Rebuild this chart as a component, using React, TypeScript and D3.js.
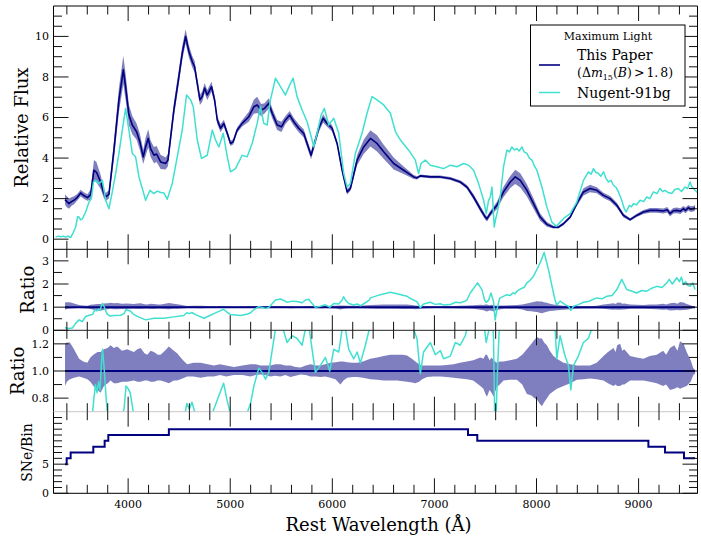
import React from 'react';
import * as d3 from 'd3';

const W = 701;
const H = 540;
const LEFT = 53.5;
const RIGHT = 697.5;
const FONT = '"DejaVu Serif", "Liberation Serif", serif';
const NAVY = '#000080';
const CYAN = '#40e0d0';
const BAND = 'rgba(0,0,128,0.5)';

const waveRange: [number, number] = [3269, 9577];
const waveMajorTicks = [4000, 5000, 6000, 7000, 8000, 9000];
const fluxTicks = [0, 2, 4, 6, 8, 10];
const ratioTicks = [0, 1, 2, 3];
const zoomRatioTicks = [0.8, 1.0, 1.2];
const binTicks = [0, 5];

// Mean maximum-light spectrum: [wavelength (Å), relative flux, 1σ half-width]
const meanSpectrum: [number, number, number][] = [
  [3382, 1.95, 0.25], [3400, 1.85, 0.27], [3421, 1.75, 0.25], [3445, 1.85, 0.22], [3470, 1.92, 0.2],
  [3500, 2.05, 0.16], [3535, 2.28, 0.16], [3565, 2.15, 0.16], [3601, 2.05, 0.16], [3633, 2.2, 0.25],
  [3665, 3.4, 0.5], [3690, 3.3, 0.5], [3731, 2.82, 0.35], [3760, 2.3, 0.25], [3780, 2.08, 0.2],
  [3812, 2.21, 0.2], [3861, 4.39, 0.45], [3910, 6.87, 0.6], [3953, 8.35, 0.7], [3975, 7.52, 0.65],
  [4008, 6.12, 0.5], [4041, 5.63, 0.45], [4083, 5.3, 0.4], [4115, 4.8, 0.4], [4148, 4.06, 0.35],
  [4171, 4.55, 0.45], [4197, 4.97, 0.45], [4220, 4.47, 0.4], [4253, 4.14, 0.4], [4279, 4.2, 0.4],
  [4318, 3.81, 0.35], [4367, 3.73, 0.3], [4390, 3.9, 0.3], [4448, 6.37, 0.35], [4497, 8.02, 0.35],
  [4530, 9.18, 0.35], [4563, 10.0, 0.35], [4595, 9.26, 0.3], [4628, 8.76, 0.28], [4651, 8.51, 0.28],
  [4677, 7.69, 0.25], [4703, 6.87, 0.25], [4726, 7.03, 0.25], [4749, 7.45, 0.25], [4775, 7.11, 0.25],
  [4817, 7.52, 0.25], [4847, 6.87, 0.22], [4873, 5.88, 0.2], [4905, 5.47, 0.2], [4938, 5.71, 0.18],
  [4971, 5.22, 0.15], [5003, 4.72, 0.13], [5029, 4.8, 0.13], [5068, 5.38, 0.13], [5117, 5.71, 0.15],
  [5182, 6.04, 0.25], [5231, 6.53, 0.35], [5264, 6.62, 0.4], [5303, 6.37, 0.3], [5336, 6.45, 0.25],
  [5378, 6.7, 0.25], [5411, 6.21, 0.25], [5460, 5.63, 0.25], [5502, 5.54, 0.25], [5541, 5.88, 0.2],
  [5583, 6.12, 0.2], [5622, 5.79, 0.2], [5671, 5.47, 0.2], [5720, 5.22, 0.2], [5753, 4.72, 0.2],
  [5792, 4.14, 0.2], [5835, 4.89, 0.2], [5867, 5.47, 0.2], [5910, 5.96, 0.2], [5949, 5.71, 0.16],
  [5998, 5.47, 0.16], [6047, 4.72, 0.13], [6096, 3.4, 0.13], [6145, 2.33, 0.13], [6177, 2.5, 0.13],
  [6243, 3.9, 0.25], [6307, 4.55, 0.35], [6373, 4.97, 0.4], [6438, 4.72, 0.4], [6503, 4.31, 0.35],
  [6601, 3.73, 0.3], [6699, 3.4, 0.18], [6797, 3.07, 0.1], [6830, 3.02, 0.08], [6862, 3.12, 0.07],
  [6960, 3.07, 0.07], [7058, 3.07, 0.07], [7156, 2.99, 0.07], [7253, 2.82, 0.08], [7319, 2.57, 0.1],
  [7384, 2.08, 0.13], [7449, 1.5, 0.13], [7498, 1.09, 0.13], [7515, 1.0, 0.13], [7547, 1.26, 0.13],
  [7613, 1.67, 0.18], [7677, 2.33, 0.25], [7743, 2.82, 0.3], [7792, 3.07, 0.35], [7841, 2.9, 0.35],
  [7906, 2.41, 0.3], [7971, 1.75, 0.25], [8036, 1.09, 0.18], [8102, 0.73, 0.12], [8166, 0.59, 0.07],
  [8215, 0.59, 0.07], [8264, 0.76, 0.07], [8330, 1.09, 0.07], [8395, 1.75, 0.12], [8460, 2.33, 0.18],
  [8525, 2.5, 0.18], [8591, 2.41, 0.15], [8656, 2.16, 0.13], [8721, 2.0, 0.13], [8787, 1.67, 0.12],
  [8852, 1.17, 0.1], [8917, 0.96, 0.07], [8982, 1.17, 0.08], [9047, 1.34, 0.1], [9112, 1.42, 0.12],
  [9178, 1.42, 0.12], [9243, 1.39, 0.12], [9280, 1.45, 0.14], [9308, 1.26, 0.14], [9340, 1.4, 0.14],
  [9374, 1.42, 0.14], [9410, 1.38, 0.14], [9438, 1.5, 0.14], [9460, 1.42, 0.14], [9487, 1.55, 0.14],
  [9510, 1.48, 0.14], [9536, 1.5, 0.14], [9553, 1.55, 0.14],
];

// Nugent 91bg-like template: [wavelength (Å), relative flux]
const nugentSpectrum: [number, number][] = [
  [3290, 0.1], [3315, 0.15], [3340, 0.12], [3365, 0.15], [3388, 0.1], [3410, 0.15], [3437, 0.08],
  [3460, 0.3], [3486, 0.6], [3505, 1.1], [3519, 1.09], [3535, 0.95], [3552, 1.0], [3584, 1.34],
  [3617, 1.83], [3640, 2.0], [3660, 2.82], [3682, 2.9], [3714, 2.74], [3748, 2.9], [3780, 1.92],
  [3812, 1.5], [3845, 2.33], [3878, 3.24], [3910, 4.23], [3943, 5.38], [3975, 6.45], [4008, 5.38],
  [4041, 4.23], [4073, 4.06], [4106, 3.07], [4139, 2.5], [4171, 1.92], [4214, 2.41], [4253, 2.25],
  [4286, 2.37], [4320, 2.3], [4350, 2.28], [4383, 1.97], [4432, 2.74], [4481, 4.06], [4530, 5.38],
  [4572, 7.11], [4612, 6.87], [4638, 6.53], [4677, 4.89], [4719, 3.98], [4775, 4.14], [4824, 5.38],
  [4856, 4.89], [4889, 4.55], [4932, 5.22], [4971, 4.06], [5003, 3.32], [5052, 3.48], [5117, 4.14],
  [5166, 4.06], [5215, 4.72], [5264, 5.71], [5296, 6.53], [5329, 5.71], [5362, 5.63], [5394, 6.87],
  [5443, 7.94], [5492, 7.52], [5541, 7.11], [5583, 7.61], [5616, 7.94], [5655, 7.03], [5704, 6.37],
  [5753, 5.79], [5802, 4.89], [5818, 4.55], [5851, 5.22], [5890, 6.12], [5922, 6.45], [5965, 5.63],
  [6014, 5.96], [6063, 5.22], [6112, 3.24], [6145, 2.57], [6177, 2.74], [6226, 4.23], [6291, 5.22],
  [6340, 6.21], [6389, 7.03], [6438, 6.87], [6503, 6.62], [6569, 6.21], [6618, 5.3], [6667, 4.89],
  [6748, 4.39], [6813, 3.9], [6845, 3.24], [6869, 3.73], [6910, 3.9], [6960, 3.65], [7025, 3.57],
  [7090, 3.48], [7156, 3.65], [7221, 3.57], [7286, 3.73], [7335, 3.65], [7384, 3.4], [7433, 2.74],
  [7482, 1.92], [7508, 1.26], [7530, 1.9], [7547, 2.08], [7564, 2.57], [7586, 0.6], [7600, 1.0],
  [7613, 1.26], [7645, 2.08], [7677, 3.57], [7710, 4.39], [7735, 4.3], [7759, 4.55], [7785, 4.4],
  [7808, 4.47], [7830, 4.35], [7857, 4.55], [7880, 4.3], [7906, 4.23], [7930, 4.0], [7955, 3.9],
  [7980, 3.6], [8004, 3.4], [8053, 2.57], [8102, 1.58], [8151, 0.84], [8194, 0.64], [8232, 0.84],
  [8281, 1.09], [8330, 1.26], [8395, 1.83], [8460, 2.9], [8509, 3.32], [8535, 3.2], [8558, 3.48],
  [8580, 3.3], [8607, 3.24], [8630, 3.1], [8656, 3.32], [8680, 3.0], [8705, 2.82], [8730, 2.9],
  [8754, 2.66], [8780, 2.55], [8803, 2.33], [8835, 1.92], [8860, 1.5], [8878, 1.34], [8910, 1.67],
  [8930, 1.6], [8949, 1.75], [8980, 1.7], [9015, 1.92], [9050, 1.85], [9080, 2.08], [9110, 2.0],
  [9145, 2.33], [9180, 2.25], [9210, 2.5], [9235, 2.35], [9259, 2.41], [9290, 2.3], [9325, 2.25],
  [9355, 2.45], [9390, 2.5], [9420, 2.35], [9455, 2.57], [9480, 2.5], [9504, 2.82], [9520, 2.6],
  [9553, 2.41], [9577, 2.3],
];

// Fractional dispersion of the mean: [wavelength (Å), upper, lower]
const ratioBand: [number, number, number][] = [
  [3382, 1.2, 0.89], [3400, 1.21, 0.92], [3430, 1.21, 0.94], [3470, 1.16, 0.95], [3520, 1.09, 0.96],
  [3560, 1.07, 0.95], [3600, 1.06, 0.94], [3630, 1.1, 0.92], [3660, 1.12, 0.89], [3700, 1.14, 0.86],
  [3730, 1.14, 0.84], [3763, 1.16, 0.89], [3800, 1.17, 0.91], [3828, 1.19, 0.93], [3860, 1.17, 0.91],
  [3893, 1.18, 0.91], [3940, 1.15, 0.92], [3990, 1.16, 0.92], [4057, 1.14, 0.93], [4090, 1.16, 0.92],
  [4122, 1.17, 0.92], [4160, 1.13, 0.93], [4188, 1.12, 0.93], [4220, 1.15, 0.92], [4253, 1.14, 0.92],
  [4290, 1.12, 0.93], [4318, 1.12, 0.93], [4360, 1.15, 0.92], [4399, 1.18, 0.91], [4448, 1.15, 0.93],
  [4480, 1.13, 0.93], [4514, 1.1, 0.94], [4550, 1.07, 0.95], [4579, 1.05, 0.96], [4640, 1.06, 0.96],
  [4710, 1.06, 0.95], [4780, 1.05, 0.96], [4840, 1.04, 0.96], [4900, 1.05, 0.97], [4960, 1.04, 0.96],
  [5036, 1.03, 0.97], [5120, 1.04, 0.97], [5199, 1.05, 0.96], [5250, 1.05, 0.97], [5296, 1.04, 0.975],
  [5340, 1.04, 0.97], [5394, 1.04, 0.96], [5440, 1.05, 0.965], [5492, 1.05, 0.96], [5540, 1.04, 0.97],
  [5590, 1.04, 0.955], [5640, 1.03, 0.965], [5688, 1.025, 0.975], [5740, 1.04, 0.97], [5786, 1.05, 0.96],
  [5840, 1.04, 0.96], [5884, 1.04, 0.955], [5930, 1.05, 0.96], [5982, 1.06, 0.95], [6030, 1.065, 0.94],
  [6080, 1.07, 0.9], [6110, 1.07, 0.93], [6145, 1.065, 0.95], [6200, 1.06, 0.955], [6243, 1.06, 0.955],
  [6300, 1.07, 0.95], [6373, 1.09, 0.94], [6440, 1.1, 0.935], [6503, 1.11, 0.93], [6570, 1.12, 0.93],
  [6634, 1.12, 0.93], [6690, 1.12, 0.925], [6732, 1.115, 0.92], [6780, 1.09, 0.915], [6813, 1.07, 0.91],
  [6850, 1.05, 0.92], [6880, 1.04, 0.94], [6927, 1.04, 0.955], [6990, 1.04, 0.96], [7058, 1.04, 0.96],
  [7120, 1.045, 0.955], [7188, 1.05, 0.95], [7250, 1.06, 0.945], [7319, 1.07, 0.94], [7380, 1.08, 0.93],
  [7450, 1.1, 0.89], [7480, 1.09, 0.87], [7500, 1.12, 0.83], [7515, 1.12, 0.81], [7540, 1.08, 0.86],
  [7560, 1.1, 0.84], [7580, 1.08, 0.81], [7610, 1.06, 0.88], [7640, 1.07, 0.9], [7677, 1.07, 0.93],
  [7740, 1.08, 0.935], [7808, 1.09, 0.935], [7860, 1.12, 0.9], [7906, 1.16, 0.83], [7950, 1.2, 0.82],
  [7980, 1.23, 0.8], [8004, 1.25, 0.79], [8030, 1.24, 0.76], [8053, 1.24, 0.74], [8075, 1.21, 0.77],
  [8102, 1.19, 0.8], [8130, 1.15, 0.83], [8166, 1.11, 0.85], [8200, 1.09, 0.87], [8264, 1.06, 0.89],
  [8330, 1.05, 0.91], [8395, 1.04, 0.935], [8460, 1.04, 0.94], [8525, 1.04, 0.945], [8590, 1.06, 0.94],
  [8656, 1.11, 0.93], [8700, 1.14, 0.91], [8754, 1.17, 0.89], [8775, 1.14, 0.9], [8790, 1.19, 0.89],
  [8819, 1.2, 0.89], [8840, 1.15, 0.9], [8860, 1.16, 0.9], [8917, 1.11, 0.93], [8980, 1.1, 0.93],
  [9047, 1.09, 0.93], [9110, 1.11, 0.92], [9178, 1.12, 0.91], [9240, 1.15, 0.89], [9270, 1.12, 0.9],
  [9308, 1.17, 0.86], [9350, 1.19, 0.87], [9380, 1.15, 0.88], [9406, 1.22, 0.87], [9440, 1.2, 0.88],
  [9471, 1.14, 0.89], [9510, 1.08, 0.92], [9536, 1.02, 0.97], [9553, 1.01, 0.98],
];

// Nugent template divided by the mean spectrum: [wavelength (Å), ratio]
const nugentRatio: [number, number][] = [
  [3382, 0.11], [3421, 0.08], [3454, 0.1], [3486, 0.3], [3519, 0.45], [3552, 0.38], [3584, 0.6],
  [3626, 0.66], [3650, 0.68], [3665, 0.8], [3680, 0.9], [3695, 0.84], [3710, 0.92], [3725, 0.86],
  [3740, 1.08], [3750, 1.16], [3765, 1.02], [3780, 0.85], [3795, 0.7], [3820, 0.62], [3861, 0.64],
  [3927, 0.65], [3960, 0.72], [3980, 0.89], [4000, 0.87], [4020, 0.84], [4050, 0.7], [4090, 0.6],
  [4171, 0.45], [4253, 0.52], [4350, 0.52], [4448, 0.58], [4545, 0.64], [4575, 0.76], [4600, 0.72],
  [4625, 0.77], [4660, 0.68], [4742, 0.52], [4790, 0.62], [4840, 0.72], [4900, 0.84], [4935, 0.91],
  [4965, 0.8], [5003, 0.68], [5101, 0.64], [5170, 0.7], [5199, 0.76], [5232, 0.89], [5280, 1.02],
  [5313, 0.99], [5346, 0.94], [5378, 0.99], [5443, 1.31], [5492, 1.35], [5525, 1.29], [5557, 1.21],
  [5606, 1.26], [5655, 1.24], [5704, 1.19], [5737, 1.31], [5769, 1.34], [5802, 1.16], [5834, 0.99],
  [5883, 1.04], [5932, 1.1], [5975, 1.0], [6014, 1.16], [6063, 1.14], [6096, 1.31], [6110, 1.45],
  [6128, 1.31], [6161, 1.16], [6210, 1.09], [6243, 1.14], [6275, 1.06], [6324, 1.19], [6363, 1.31],
  [6373, 1.4], [6471, 1.54], [6569, 1.64], [6634, 1.58], [6732, 1.47], [6780, 1.34], [6829, 1.24],
  [6862, 0.98], [6894, 1.14], [6960, 1.21], [7009, 1.12], [7058, 1.15], [7090, 1.09], [7156, 1.11],
  [7205, 1.21], [7253, 1.19], [7302, 1.26], [7319, 1.31], [7351, 1.61], [7423, 2.05], [7466, 1.76],
  [7491, 1.31], [7507, 1.21], [7530, 1.29], [7554, 1.61], [7579, 1.24], [7595, 0.45], [7618, 1.0],
  [7637, 1.35], [7645, 1.4], [7710, 1.54], [7740, 1.5], [7770, 1.62], [7790, 1.58], [7808, 1.69],
  [7850, 1.8], [7880, 1.86], [7906, 2.05], [7935, 2.15], [7971, 2.34], [8036, 2.92], [8075, 3.36],
  [8117, 2.63], [8166, 1.61], [8182, 1.31], [8199, 1.09], [8231, 1.26], [8280, 1.11], [8313, 1.04],
  [8336, 0.86], [8362, 1.04], [8410, 1.11], [8459, 1.21], [8508, 1.24], [8540, 1.31], [8591, 1.4],
  [8640, 1.36], [8689, 1.47], [8740, 1.5], [8787, 1.76], [8835, 2.2], [8884, 1.76], [8930, 1.7],
  [8982, 1.61], [9030, 1.72], [9080, 1.69], [9130, 1.82], [9178, 1.9], [9230, 1.85], [9276, 2.05],
  [9300, 2.2], [9330, 2.0], [9374, 2.27], [9400, 2.1], [9420, 2.3], [9438, 1.98], [9460, 2.1],
  [9480, 1.95], [9504, 1.9], [9530, 2.05], [9553, 1.76],
];

// Number of spectra contributing to each wavelength bin
const binEdges = [3382, 3398, 3437, 3659, 3770, 3806, 4399, 7329, 7420, 9096, 9259, 9445, 9553];
const binCounts = [5, 6, 7, 8, 9, 10, 11, 10, 9, 8, 7, 6];

type PanelSpec = {
  id: string;
  top: number;
  bottom: number;
  domain: [number, number];
  major: number[];
  minorStep: number;
  fmt: (v: number) => string;
};

const panels: PanelSpec[] = [
  { id: 'flux', top: 6, bottom: 249.3, domain: [-0.5, 11.5], major: fluxTicks, minorStep: 0.5, fmt: d3.format('d') },
  { id: 'ratio', top: 249.3, bottom: 330.3, domain: [0, 3.5], major: ratioTicks, minorStep: 0.5, fmt: d3.format('d') },
  { id: 'zoom', top: 330.3, bottom: 411.7, domain: [0.7, 1.3], major: zoomRatioTicks, minorStep: 0.1, fmt: d3.format('.1f') },
  { id: 'bins', top: 411.7, bottom: 493.3, domain: [0, 14], major: binTicks, minorStep: 1, fmt: d3.format('d') },
];

const MAJOR_LEN = 15;
const MINOR_LEN = 8.5;
const serif = { fontFamily: FONT };

export default function App() {
  const x = d3.scaleLinear().domain(waveRange).range([LEFT, RIGHT]);
  const ys = panels.map((p) => d3.scaleLinear().domain(p.domain).range([p.bottom, p.top]));
  const [yFlux, yRatio, yZoom, yBins] = ys;

  const waveMinor = d3.range(3400, waveRange[1], 200).filter((w) => w % 1000 !== 0);

  const fluxBand = d3.area<[number, number, number]>()
    .x((d) => x(d[0]))
    .y0((d) => yFlux(d[1] - d[2]))
    .y1((d) => yFlux(d[1] + d[2]))(meanSpectrum);
  const fluxLine = d3.line<[number, number, number]>().x((d) => x(d[0])).y((d) => yFlux(d[1]))(meanSpectrum);
  const nugentLine = d3.line<[number, number]>().x((d) => x(d[0])).y((d) => yFlux(d[1]))(nugentSpectrum);

  const bandPath = (y: d3.ScaleLinear<number, number>) =>
    d3.area<[number, number, number]>().x((d) => x(d[0])).y0((d) => y(d[2])).y1((d) => y(d[1]))(ratioBand);
  const ratioPath = (y: d3.ScaleLinear<number, number>) =>
    d3.line<[number, number]>().x((d) => x(d[0])).y((d) => y(d[1]))(nugentRatio);

  const stepPoints: [number, number][] = binEdges.map((e, i) => [e, binCounts[Math.min(i, binCounts.length - 1)]]);
  const binLine = d3.line<[number, number]>().x((d) => x(d[0])).y((d) => yBins(d[1])).curve(d3.curveStepAfter)(stepPoints);

  const tickEls: React.ReactNode[] = [];
  panels.forEach((p, pi) => {
    const y = ys[pi];
    waveMajorTicks.forEach((w) => {
      tickEls.push(<line key={`xM${pi}b${w}`} x1={x(w)} x2={x(w)} y1={p.bottom} y2={p.bottom - MAJOR_LEN} />);
      tickEls.push(<line key={`xM${pi}t${w}`} x1={x(w)} x2={x(w)} y1={p.top} y2={p.top + MAJOR_LEN} />);
    });
    waveMinor.forEach((w) => {
      tickEls.push(<line key={`xm${pi}b${w}`} x1={x(w)} x2={x(w)} y1={p.bottom} y2={p.bottom - MINOR_LEN} />);
      tickEls.push(<line key={`xm${pi}t${w}`} x1={x(w)} x2={x(w)} y1={p.top} y2={p.top + MINOR_LEN} />);
    });
    const eps = 1e-6;
    const minors = d3.range(p.domain[0], p.domain[1] + eps, p.minorStep).filter(
      (v) => v > p.domain[0] + eps && v < p.domain[1] - eps && !p.major.some((m) => Math.abs(m - v) < eps)
    );
    p.major.forEach((v) => {
      tickEls.push(<line key={`yM${pi}l${v}`} x1={LEFT} x2={LEFT + MAJOR_LEN} y1={y(v)} y2={y(v)} />);
      tickEls.push(<line key={`yM${pi}r${v}`} x1={RIGHT} x2={RIGHT - MAJOR_LEN} y1={y(v)} y2={y(v)} />);
    });
    minors.forEach((v, i) => {
      tickEls.push(<line key={`ym${pi}l${i}`} x1={LEFT} x2={LEFT + MINOR_LEN} y1={y(v)} y2={y(v)} />);
      tickEls.push(<line key={`ym${pi}r${i}`} x1={RIGHT} x2={RIGHT - MINOR_LEN} y1={y(v)} y2={y(v)} />);
    });
  });

  return (
    <svg width={W} height={H} viewBox={`0 0 ${W} ${H}`} style={{ position: 'absolute', left: 0, top: 0, background: '#fff', fontFamily: FONT }}>
      <defs>
        {panels.map((p) => (
          <clipPath key={p.id} id={`clip-${p.id}`}>
            <rect x={LEFT} y={p.top} width={RIGHT - LEFT} height={p.bottom - p.top} />
          </clipPath>
        ))}
      </defs>
      <rect x={0} y={0} width={W} height={H} fill="#fff" />

      {/* spectra */}
      <g clipPath="url(#clip-flux)">
        <path d={fluxBand ?? ''} fill={BAND} stroke="none" />
        <path d={fluxLine ?? ''} fill="none" stroke={NAVY} strokeWidth={1.6} strokeLinejoin="round" />
        <path d={nugentLine ?? ''} fill="none" stroke={CYAN} strokeWidth={1.5} strokeLinejoin="round" />
      </g>

      {/* ratio, full range */}
      <g clipPath="url(#clip-ratio)">
        <path d={bandPath(yRatio) ?? ''} fill={BAND} />
        <line x1={x(binEdges[0])} x2={x(binEdges[binEdges.length - 1])} y1={yRatio(1)} y2={yRatio(1)} stroke={NAVY} strokeWidth={2} />
        <path d={ratioPath(yRatio) ?? ''} fill="none" stroke={CYAN} strokeWidth={1.5} strokeLinejoin="round" />
      </g>

      {/* ratio, zoomed */}
      <g clipPath="url(#clip-zoom)">
        <path d={bandPath(yZoom) ?? ''} fill={BAND} />
        <line x1={x(binEdges[0])} x2={x(binEdges[binEdges.length - 1])} y1={yZoom(1)} y2={yZoom(1)} stroke={NAVY} strokeWidth={2} />
        <path d={ratioPath(yZoom) ?? ''} fill="none" stroke={CYAN} strokeWidth={1.5} strokeLinejoin="round" />
      </g>

      {/* spectra per bin */}
      <g clipPath="url(#clip-bins)">
        <path d={binLine ?? ''} fill="none" stroke={NAVY} strokeWidth={2} />
      </g>

      {/* frame */}
      <g stroke="#000" strokeWidth={1} fill="none">
        <line x1={LEFT} x2={LEFT} y1={panels[0].top} y2={panels[3].bottom} />
        <line x1={RIGHT} x2={RIGHT} y1={panels[0].top} y2={panels[3].bottom} />
        <line x1={LEFT} x2={RIGHT} y1={panels[0].top} y2={panels[0].top} />
        <line x1={LEFT} x2={RIGHT} y1={panels[0].bottom} y2={panels[0].bottom} />
        <line x1={LEFT} x2={RIGHT} y1={panels[1].bottom} y2={panels[1].bottom} stroke="#222" />
        <line x1={LEFT} x2={RIGHT} y1={panels[2].bottom} y2={panels[2].bottom} stroke="#c8c8c8" />
        <line x1={LEFT} x2={RIGHT} y1={panels[3].bottom} y2={panels[3].bottom} />
      </g>
      <g stroke="#111" strokeWidth={1}>{tickEls}</g>

      {/* y tick labels */}
      <g fontSize={11} textAnchor="end" fill="#000" style={serif}>
        {panels.map((p, pi) =>
          p.major.map((v) => (
            <text key={`yl${pi}${v}`} x={49} y={ys[pi](v)} dy="0.35em" style={serif}>{p.fmt(v)}</text>
          ))
        )}
      </g>

      {/* x tick labels */}
      <g fontSize={11} textAnchor="middle" fill="#000" style={serif}>
        {waveMajorTicks.map((w) => (
          <text key={`xl${w}`} x={x(w)} y={507.5} style={serif}>{w}</text>
        ))}
      </g>

      {/* axis titles */}
      <text x={(LEFT + RIGHT) / 2 + 3} y={531} fontSize={18} textAnchor="middle" style={serif}>Rest Wavelength (Å)</text>
      <text transform={`translate(22,${(panels[0].top + panels[0].bottom) / 2}) rotate(-90)`} fontSize={18} textAnchor="middle" dy="0.35em" style={serif}>Relative Flux</text>
      <text transform={`translate(27.5,${(panels[1].top + panels[1].bottom) / 2}) rotate(-90)`} fontSize={18} textAnchor="middle" dy="0.35em" style={serif}>Ratio</text>
      <text transform={`translate(18,${(panels[2].top + panels[2].bottom) / 2}) rotate(-90)`} fontSize={18} textAnchor="middle" dy="0.35em" style={serif}>Ratio</text>
      <text transform={`translate(27.5,${(panels[3].top + panels[3].bottom) / 2}) rotate(-90)`} fontSize={14} textAnchor="middle" dy="0.35em" style={serif}>SNe/Bin</text>

      {/* legend */}
      <g style={serif}>
        <rect x={530.5} y={25} width={154.5} height={81} fill="#fff" stroke="#000" strokeWidth={1} />
        <text x={608} y={40} fontSize={11} textAnchor="middle" style={serif}>Maximum Light</text>
        <line x1={539} x2={560} y1={65} y2={65} stroke={NAVY} strokeWidth={1.6} />
        <text x={577} y={60} fontSize={14} style={serif}>This Paper</text>
        <text x={577} y={76.5} fontSize={12.5} style={serif}>
          <tspan>(Δ</tspan>
          <tspan fontStyle="italic">m</tspan>
          <tspan fontSize={8} dy={3}>15</tspan>
          <tspan dy={-3}>(</tspan>
          <tspan fontStyle="italic">B</tspan>
          <tspan>)</tspan>
          <tspan dx={2}>&gt;</tspan>
          <tspan dx={2}>1.</tspan>
          <tspan dx={2}>8)</tspan>
        </text>
        <line x1={539} x2={560} y1={92.5} y2={92.5} stroke={CYAN} strokeWidth={1.5} />
        <text x={577} y={97.5} fontSize={14} style={serif}>Nugent-91bg</text>
      </g>
    </svg>
  );
}
